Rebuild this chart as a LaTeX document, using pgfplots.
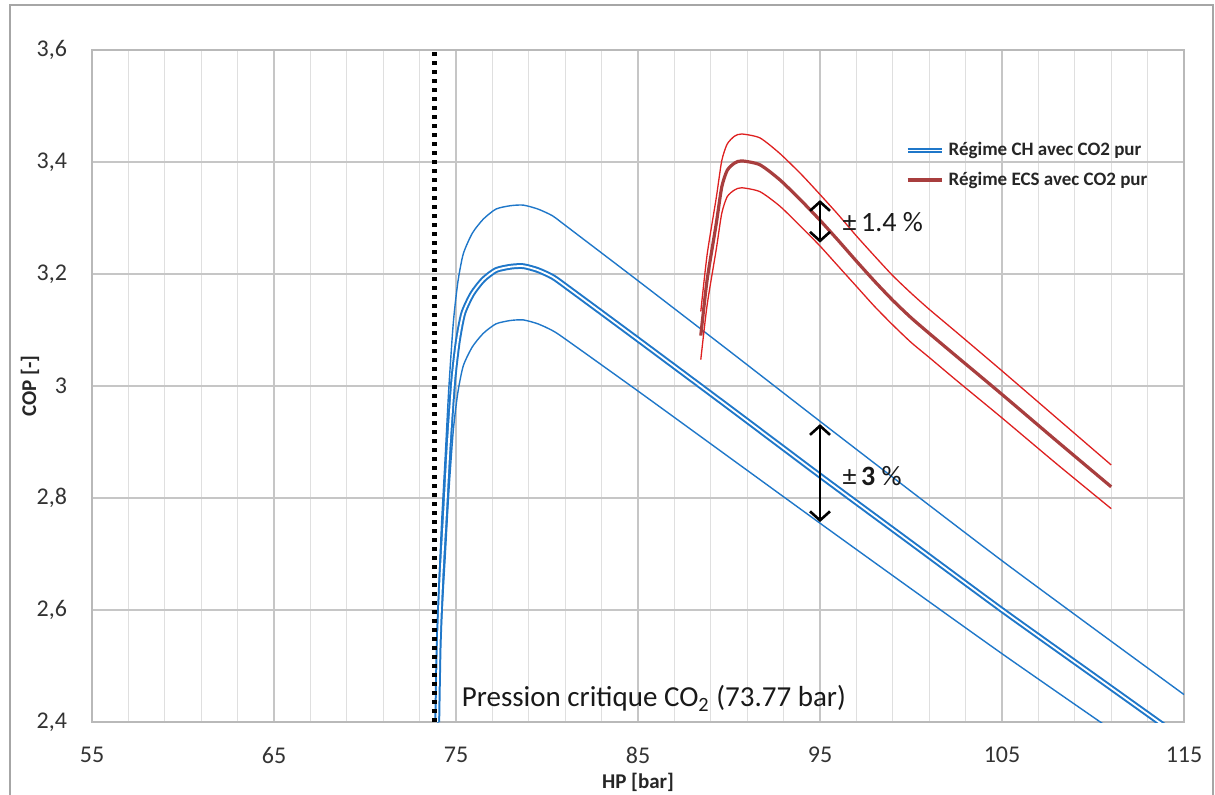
\documentclass[border=0pt]{standalone}
\usepackage{fontspec}
\setmainfont{Carlito}
\usepackage{pgfplots}
\pgfplotsset{compat=1.18}
\usetikzlibrary{arrows.meta}

\definecolor{chblue}{RGB}{31,119,201}
\definecolor{ecsred}{RGB}{222,32,32}
\definecolor{ecsmain}{RGB}{168,62,62}

\begin{document}
\begin{tikzpicture}
\useasboundingbox (-46pt,-36pt) rectangle (561.5pt,361pt);
\begin{axis}[
  width=546pt, height=336pt, scale only axis,
  xmin=55, xmax=115, ymin=2.4, ymax=3.6,
  xtick={55,65,...,115}, ytick={2.4,2.6,...,3.6},
  minor x tick num=4,
  xmajorgrids, xminorgrids, ymajorgrids,
  major grid style={gray!45, line width=0.6pt},
  minor grid style={gray!25, line width=0.6pt},
  axis line style={gray!55, line width=0.8pt},
  major tick length=0pt, minor tick length=0pt,
  /pgf/number format/assume math mode=true,
  yticklabel style={/pgf/number format/use comma, /pgf/number format/fixed,
    /pgf/number format/precision=1, xshift=-9pt},
  xticklabel style={yshift=-9pt},
  tick label style={font=\fontsize{12}{14}\selectfont, text=black!80},
  xlabel={HP [bar]}, ylabel={COP [-]},
  label style={font=\bfseries\fontsize{10.5}{12}\selectfont, text=black!85},
  xlabel style={at={(axis description cs:0.5,-0.0893)}, anchor=center},
  ylabel style={at={(axis description cs:-0.0568,0.5)}, anchor=center},
  legend style={at={(rel axis cs:0.742,0.872)}, anchor=north west, draw=none, fill=none,
    font=\bfseries\fontsize{9.5}{11}\selectfont, text=black!85,
    row sep=2.5pt, inner sep=1pt},
  legend cell align=left,
  every axis plot/.append style={smooth, tension=0.4},
]
% CH bounds (+/- 3 %)
\addplot[chblue, line width=0.7pt, forget plot] coordinates {
(73.97,2.482) (74.05,2.626) (74.2,2.750) (74.4,2.869) (74.6,2.993) (74.85,3.112)
(75.1,3.185) (75.4,3.236) (75.9,3.273) (76.5,3.298) (77.2,3.316) (78.0,3.322)
(78.7,3.323) (79.5,3.316) (80.3,3.304) (81.0,3.287) (85,3.188) (90,3.063)
(95,2.937) (100,2.812) (105,2.688) (110,2.568) (115,2.449)};
\addplot[chblue, line width=0.7pt, forget plot] coordinates {
(73.97,2.328) (74.05,2.464) (74.2,2.580) (74.4,2.692) (74.6,2.808) (74.85,2.920)
(75.1,2.988) (75.4,3.036) (75.9,3.070) (76.5,3.094) (77.2,3.111) (78.0,3.117)
(78.7,3.118) (79.5,3.111) (80.3,3.099) (81.0,3.084) (85,2.991) (90,2.873)
(95,2.755) (100,2.638) (105,2.522) (110,2.409) (115,2.297)};
% CH main
\addplot[chblue, line width=1pt, double=white, double distance=0.9pt] coordinates {
(73.97,2.40) (74.05,2.54) (74.2,2.66) (74.4,2.775) (74.6,2.895) (74.85,3.01)
(75.1,3.08) (75.4,3.13) (75.9,3.165) (76.5,3.19) (77.2,3.207) (78.0,3.213)
(78.7,3.214) (79.5,3.207) (80.3,3.195) (81.0,3.179) (85,3.083) (90,2.962)
(95,2.840) (100,2.720) (105,2.600) (110,2.484) (115,2.368)};
\addlegendentry{Régime CH avec CO2 pur}
% ECS bounds (+/- 1.4 %)
\addplot[ecsred, line width=0.65pt, forget plot] coordinates {
(88.45,3.133) (88.8,3.235) (89.3,3.336) (89.6,3.402) (89.9,3.432) (90.3,3.446)
(90.7,3.450) (91.7,3.443) (92.8,3.415) (94,3.377) (95,3.342) (96,3.306)
(97,3.268) (98,3.232) (99,3.197) (100,3.166) (101,3.137) (102.5,3.096)
(105,3.027) (108,2.943) (111,2.859)};
\addplot[ecsred, line width=0.65pt, forget plot] coordinates {
(88.45,3.047) (88.8,3.145) (89.3,3.244) (89.6,3.308) (89.9,3.338) (90.3,3.350)
(90.7,3.354) (91.7,3.347) (92.8,3.321) (94,3.283) (95,3.250) (96,3.214)
(97,3.178) (98,3.142) (99,3.109) (100,3.078) (101,3.051) (102.5,3.010)
(105,2.943) (108,2.861) (111,2.781)};
% ECS main
\addplot[ecsmain, line width=1.6pt] coordinates {
(88.45,3.09) (88.8,3.19) (89.3,3.29) (89.6,3.355) (89.9,3.385) (90.3,3.398)
(90.7,3.402) (91.7,3.395) (92.8,3.368) (94,3.33) (95,3.296) (96,3.26)
(97,3.223) (98,3.187) (99,3.153) (100,3.122) (101,3.094) (102.5,3.053)
(105,2.985) (108,2.902) (111,2.82)};
\addlegendentry{Régime ECS avec CO2 pur}
% critical pressure
\addplot[black, line width=2.4pt, dash pattern=on 2.2pt off 2.3pt, sharp plot, forget plot]
  coordinates {(73.8,2.4) (73.8,3.6)};
% spread arrows
\addplot[black, line width=1.3pt, sharp plot, forget plot,
  {Straight Barb[length=4.5pt,width=10pt]}-{Straight Barb[length=4.5pt,width=10pt]}]
  coordinates {(95,2.757) (95,2.932)};
\addplot[black, line width=1.3pt, sharp plot, forget plot,
  {Straight Barb[length=4.5pt,width=10pt]}-{Straight Barb[length=4.5pt,width=10pt]}]
  coordinates {(95,3.256) (95,3.332)};
\node[anchor=west, font=\fontsize{14}{16}\selectfont, text=black!90] at (axis cs:95.85,3.293) {±\,1.4 \%};
\node[anchor=west, font=\fontsize{14}{16}\selectfont, text=black!90] at (axis cs:95.85,2.839) {±\,\textbf{3} \%};
\node[anchor=base west, font=\fontsize{14.5}{16}\selectfont, text=black!90, inner sep=0pt] at (axis cs:75.3,2.427) {Pression critique CO\textsubscript{2} (73.77 bar)};
\end{axis}
\draw[gray!70, line width=1.2pt] (-41pt,-60pt) -- (-41pt,358.5pt) -- (560.5pt,358.5pt) -- (560.5pt,-60pt);
\end{tikzpicture}
\end{document}
